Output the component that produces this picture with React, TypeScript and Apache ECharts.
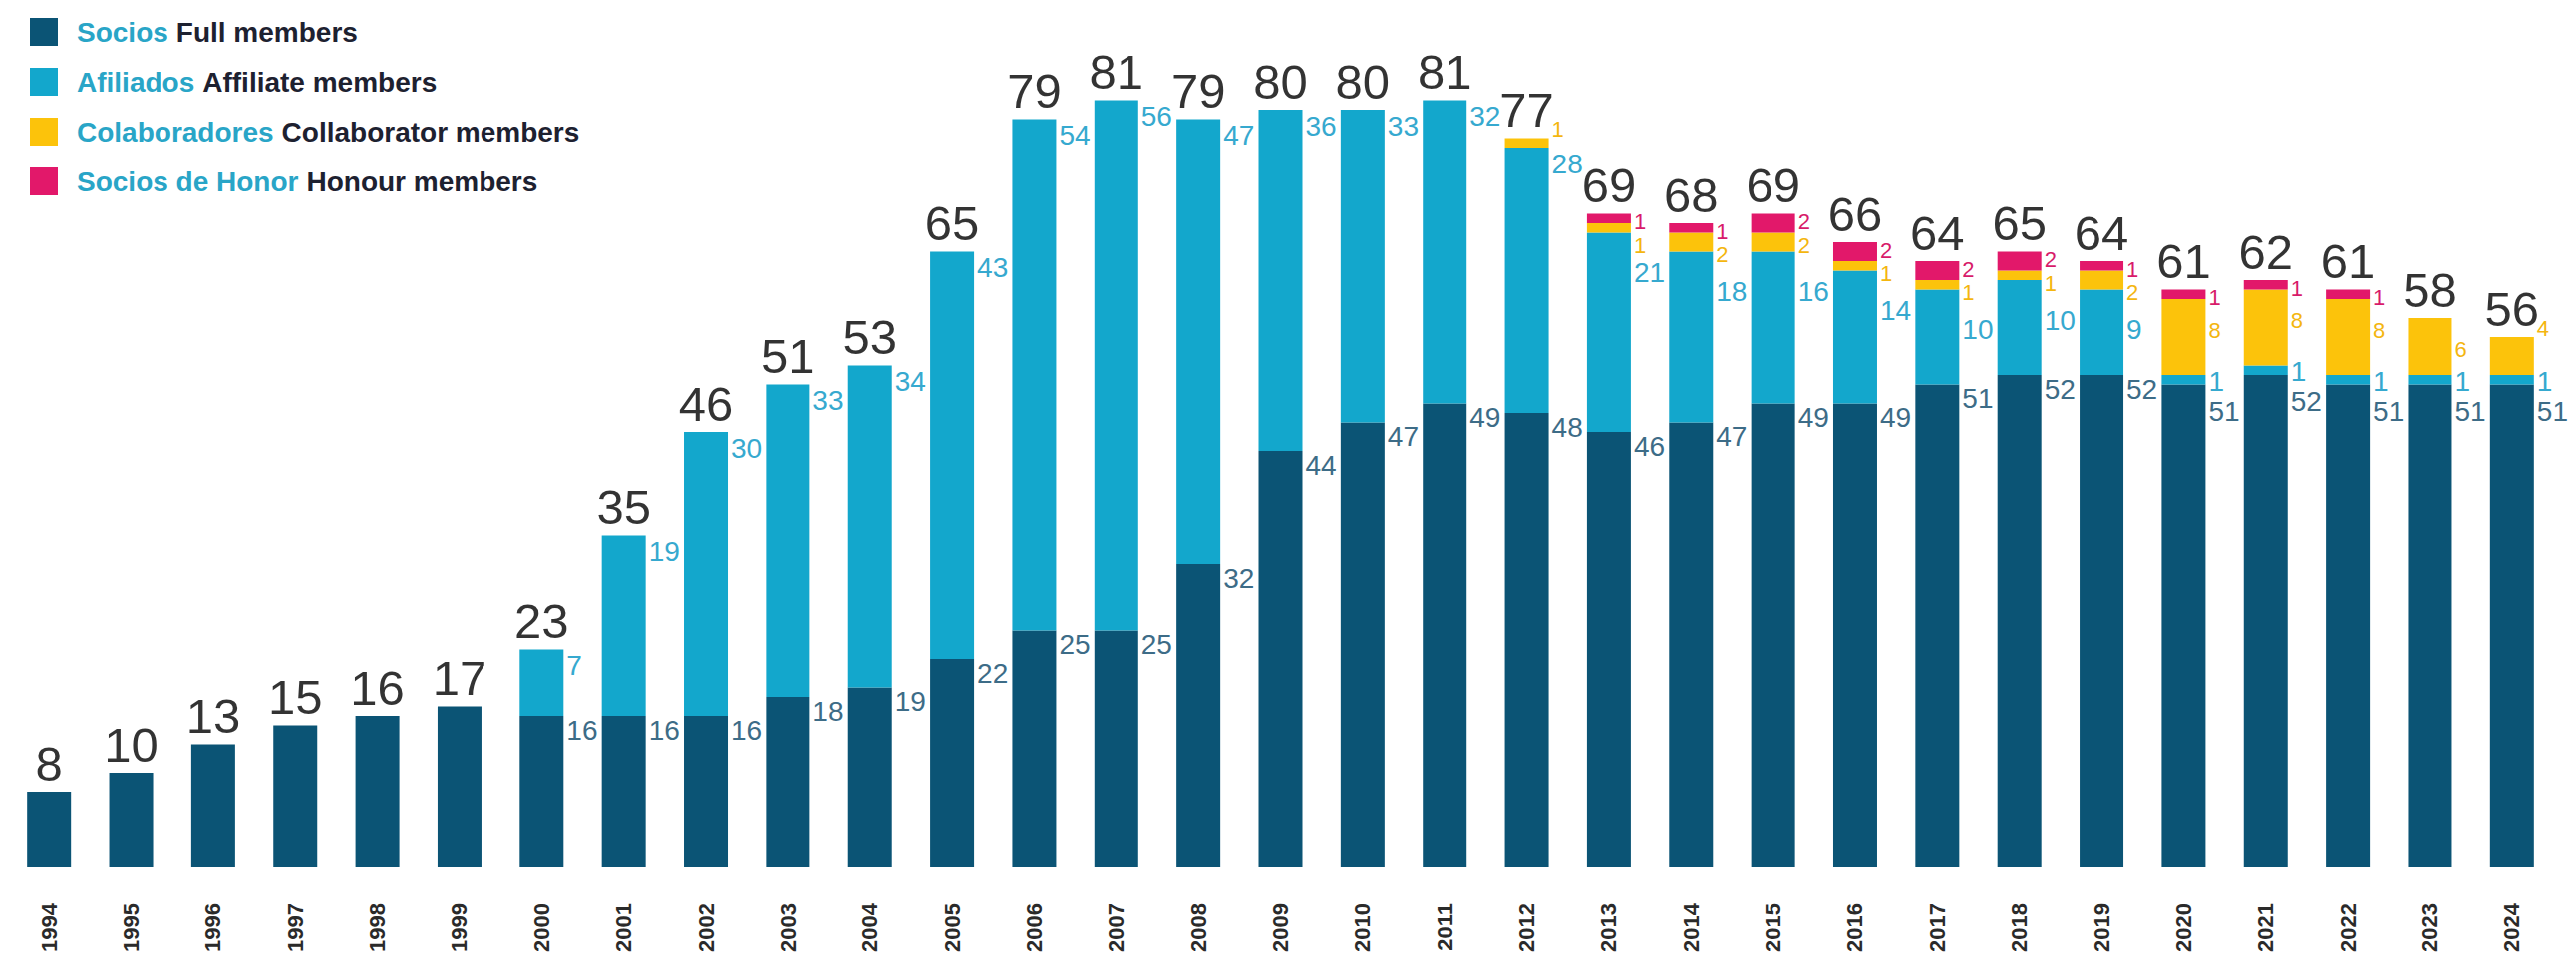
import React, { useEffect, useRef } from "react";
import * as echarts from "echarts";

const years = [
  "1994", "1995", "1996", "1997", "1998", "1999", "2000", "2001", "2002", "2003", "2004",
  "2005", "2006", "2007", "2008", "2009", "2010", "2011", "2012", "2013", "2014", "2015",
  "2016", "2017", "2018", "2019", "2020", "2021", "2022", "2023", "2024",
];
const fullMembers = [8, 10, 13, 15, 16, 17, 16, 16, 16, 18, 19, 22, 25, 25, 32, 44, 47, 49, 48, 46, 47, 49, 49, 51, 52, 52, 51, 52, 51, 51, 51];
const affiliateMembers = [0, 0, 0, 0, 0, 0, 7, 19, 30, 33, 34, 43, 54, 56, 47, 36, 33, 32, 28, 21, 18, 16, 14, 10, 10, 9, 1, 1, 1, 1, 1];
const collaboratorMembers = [0, 0, 0, 0, 0, 0, 0, 0, 0, 0, 0, 0, 0, 0, 0, 0, 0, 0, 1, 1, 2, 2, 1, 1, 1, 2, 8, 8, 8, 6, 4];
const honourMembers = [0, 0, 0, 0, 0, 0, 0, 0, 0, 0, 0, 0, 0, 0, 0, 0, 0, 0, 0, 1, 1, 2, 2, 2, 2, 1, 1, 1, 1, 0, 0];
const totals = [8, 10, 13, 15, 16, 17, 23, 35, 46, 51, 53, 65, 79, 81, 79, 80, 80, 81, 77, 69, 68, 69, 66, 64, 65, 64, 61, 62, 61, 58, 56];

const seriesNamesEs = ["Socios", "Afiliados", "Colaboradores", "Socios de Honor"];
const seriesNamesEn = ["Full members", "Affiliate members", "Collaborator members", "Honour members"];

const COLORS = ["#0b5475", "#13a7cc", "#fcc30b", "#e2186a"];
const LABEL_COLORS = ["#3d6c87", "#36a9cf", "#f4b60f", "#d81b6a"];
const FONT = "'Liberation Sans', Arial, Helvetica, sans-serif";

const CHART_H = 950;
const GRID_TOP = 7;
const GRID_BOTTOM = 86;
const Y_MAX = 90;

function buildOption() {
  const plotH = CHART_H - GRID_TOP - GRID_BOTTOM;
  const k = plotH / Y_MAX;
  const segs = [fullMembers, affiliateMembers, collaboratorMembers, honourMembers];
  const sizes = [28, 28, 22, 22];
  const gap = 2;
  const offsets: number[][] = segs.map(() => years.map(() => 0));
  const shown: boolean[][] = segs.map(() => years.map(() => false));
  years.forEach((_, i) => {
    const others = affiliateMembers[i] + collaboratorMembers[i] + honourMembers[i];
    let cum = 0;
    const tops: number[] = [];
    for (let s = 0; s < 4; s++) {
      cum += segs[s][i];
      tops.push(-cum * k);
    }
    const desired = [
      0,
      honourMembers[i] > 0 && affiliateMembers[i] >= 5 ? 26 : affiliateMembers[i] < 5 ? -8 : 2,
      collaboratorMembers[i] >= 5 ? 20 : -20,
      -3,
    ];
    let prevBottom = -Infinity;
    for (let s = 3; s >= 0; s--) {
      const v = segs[s][i];
      const show = v > 0 && (s > 0 || others > 0);
      shown[s][i] = show;
      if (!show) continue;
      const want = tops[s] + desired[s];
      const actual = Math.max(want, prevBottom + gap);
      offsets[s][i] = actual - tops[s];
      prevBottom = actual + sizes[s];
    }
  });

  const barSeries = segs.map((arr, s) => ({
    name: seriesNamesEs[s],
    type: "bar",
    stack: "members",
    barWidth: 44,
    itemStyle: { color: COLORS[s] },
    data: arr.map((v, i) => ({
      value: v,
      label: {
        show: shown[s][i],
        position: ["100%", 0],
        offset: [3, offsets[s][i]],
        align: "left",
        verticalAlign: "top",
        fontSize: sizes[s],
        lineHeight: sizes[s],
        color: LABEL_COLORS[s],
        fontFamily: FONT,
        formatter: "{c}",
      },
    })),
  }));

  const enMap: Record<string, string> = {};
  seriesNamesEs.forEach((n, i) => (enMap[n] = seriesNamesEn[i]));

  return {
    animation: false,
    backgroundColor: "#ffffff",
    grid: { left: -1, right: 15, top: GRID_TOP, bottom: GRID_BOTTOM },
    legend: {
      data: seriesNamesEs,
      orient: "vertical",
      left: 17,
      top: 5,
      itemWidth: 28,
      itemHeight: 28,
      itemGap: 22,
      icon: "rect",
      selectedMode: false,
      formatter: (name: string) => `{es|${name}}{en|${enMap[name]}}`,
      textStyle: {
        padding: [0, 0, 0, 14],
        rich: {
          es: { color: "#29a5c7", fontSize: 28, fontWeight: "bold", fontFamily: FONT },
          en: { color: "#1d2130", fontSize: 28, fontWeight: "bold", fontFamily: FONT, padding: [0, 0, 0, 8] },
        },
      },
    },
    xAxis: {
      type: "category",
      data: years,
      axisLine: { show: false },
      axisTick: { show: false },
      axisLabel: {
        rotate: 90,
        margin: 36,
        fontSize: 22,
        fontWeight: "bold",
        color: "#2a2a2a",
        fontFamily: FONT,
      },
    },
    yAxis: { type: "value", min: 0, max: Y_MAX, show: false, splitLine: { show: false } },
    series: [
      ...barSeries,
      {
        name: "Total",
        type: "scatter",
        data: totals,
        symbolSize: 0,
        silent: true,
        z: 10,
        label: {
          show: true,
          position: "top",
          distance: 4,
          fontSize: 49,
          color: "#000000",
          fontFamily: FONT,
          formatter: "{c}",
        },
      },
    ],
  };
}

export default function App() {
  const ref = useRef<HTMLDivElement>(null);
  useEffect(() => {
    if (!ref.current) return;
    const chart = echarts.init(ref.current, undefined, { renderer: "svg" });
    chart.setOption(buildOption() as any);
    return () => chart.dispose();
  }, []);
  return <div ref={ref} style={{ width: "100%", height: CHART_H }} />;
}
